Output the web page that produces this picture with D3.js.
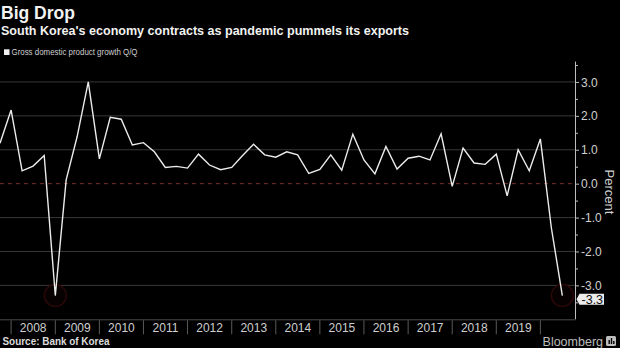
<!DOCTYPE html>
<html>
<head>
<meta charset="utf-8">
<script src="https://cdn.jsdelivr.net/npm/d3@7"></script>
<style>
  html, body { margin: 0; padding: 0; background: #000; }
  svg { display: block; }
  text { font-family: "Liberation Sans", Arial, sans-serif; }
</style>
</head>
<body>
<svg id="chart" width="620" height="348"></svg>
<script>
// Quarterly real GDP growth, quarter-on-quarter, percent
const quarters = [
  "2007Q3","2007Q4",
  "2008Q1","2008Q2","2008Q3","2008Q4",
  "2009Q1","2009Q2","2009Q3","2009Q4",
  "2010Q1","2010Q2","2010Q3","2010Q4",
  "2011Q1","2011Q2","2011Q3","2011Q4",
  "2012Q1","2012Q2","2012Q3","2012Q4",
  "2013Q1","2013Q2","2013Q3","2013Q4",
  "2014Q1","2014Q2","2014Q3","2014Q4",
  "2015Q1","2015Q2","2015Q3","2015Q4",
  "2016Q1","2016Q2","2016Q3","2016Q4",
  "2017Q1","2017Q2","2017Q3","2017Q4",
  "2018Q1","2018Q2","2018Q3","2018Q4",
  "2019Q1","2019Q2","2019Q3","2019Q4",
  "2020Q1","2020Q2"
];
const gdpGrowth = [
  1.19, 2.17,
  0.38, 0.52, 0.83, -3.3,
  0.11, 1.39, 3.0, 0.73,
  1.96, 1.9, 1.14, 1.21,
  0.94, 0.48, 0.51, 0.46,
  0.87, 0.55, 0.41, 0.48,
  0.83, 1.16, 0.85, 0.78,
  0.94, 0.85, 0.3, 0.42,
  0.85, 0.4, 1.46, 0.7,
  0.29, 1.1, 0.43, 0.75,
  0.81, 0.7, 1.47, -0.08,
  1.05, 0.61, 0.57, 0.87,
  -0.36, 1.0, 0.38, 1.32,
  -1.3, -3.3
];
const yearLabels = ["2008","2009","2010","2011","2012","2013","2014","2015","2016","2017","2018","2019"];
const yearBreaks = ["2008","2009","2010","2011","2012","2013","2014","2015","2016","2017","2018","2019","2020"];
const yTicks = [-3, -2, -1, 0, 1, 2, 3];
const lastValueLabel = "-3.3";
const highlighted = ["2008Q4", "2020Q2"];

// each quarter is plotted at its end date
const quarterEnd = q => new Date(+q.slice(0, 4), +q.slice(5) * 3, 1);
const data = quarters.map((q, i) => ({ q, date: quarterEnd(q), value: gdpGrowth[i] }));

const svg = d3.select("#chart");
const W = 620, H = 348;
const plot = { left: 0, right: 575.5, top: 61.6, bottom: 319.3 };

svg.append("rect").attr("width", W).attr("height", H).attr("fill", "#000");

const x = d3.scaleTime()
  .domain([new Date(2007, 9, 1), new Date(2020, 9, 18)])
  .range([plot.left, plot.right]);
const y = d3.scaleLinear()
  .domain([-4.0, 3.6])
  .range([plot.bottom, plot.top]);

// Title block
svg.append("text").attr("x", 1).attr("y", 18.5)
  .attr("font-size", 19).attr("font-weight", "bold").attr("fill", "#f2f2f2")
  .attr("textLength", 74).attr("lengthAdjust", "spacingAndGlyphs")
  .text("Big Drop");
svg.append("text").attr("x", 1).attr("y", 35.2)
  .attr("font-size", 12.8).attr("font-weight", "bold").attr("fill", "#f2f2f2")
  .attr("textLength", 408).attr("lengthAdjust", "spacingAndGlyphs")
  .text("South Korea's economy contracts as pandemic pummels its exports");

// Legend
svg.append("rect").attr("x", 4).attr("y", 49.3).attr("width", 5.5).attr("height", 5.7).attr("fill", "#f0f0f0");
svg.append("text").attr("x", 11.5).attr("y", 55.3)
  .attr("font-size", 8.8).attr("fill", "#cfcfcf")
  .attr("textLength", 126).attr("lengthAdjust", "spacingAndGlyphs")
  .text("Gross domestic product growth Q/Q");

// Gridlines
svg.append("g").selectAll("line")
  .data(yTicks.filter(d => d !== 0))
  .join("line")
  .attr("x1", plot.left).attr("x2", plot.right)
  .attr("y1", d => y(d)).attr("y2", d => y(d))
  .attr("stroke", "#383838").attr("stroke-width", 1);

// Zero line
svg.append("line")
  .attr("x1", plot.left).attr("x2", plot.right)
  .attr("y1", y(0)).attr("y2", y(0))
  .attr("stroke", "#7a2c2c").attr("stroke-width", 1)
  .attr("stroke-dasharray", "4,4");

// Faint rings around the two troughs
svg.append("g").selectAll("circle")
  .data(data.filter(d => highlighted.includes(d.q)))
  .join("circle")
  .attr("cx", d => x(d.date)).attr("cy", d => y(d.value))
  .attr("r", 11)
  .attr("fill", "#080101")
  .attr("stroke", "#2a0808").attr("stroke-width", 1.5);

// GDP line
const line = d3.line().x(d => x(d.date)).y(d => y(d.value));
svg.append("path").datum(data)
  .attr("d", line)
  .attr("fill", "none")
  .attr("stroke", "#ebebeb")
  .attr("stroke-width", 1.4)
  .attr("stroke-linejoin", "miter");

// Right value axis
const yAxis = d3.axisRight(y)
  .tickValues(d3.range(-3.5, 3.6, 0.5))
  .tickSize(3)
  .tickFormat(d => Number.isInteger(d) ? d.toFixed(1) : "");
const ya = svg.append("g").attr("transform", `translate(${plot.right},0)`).call(yAxis);
ya.select(".domain").attr("stroke", "#bdbdbd").attr("d", `M0,${plot.top}V${plot.bottom}`);
ya.selectAll(".tick line").attr("stroke", "#bdbdbd")
  .attr("x2", d => Number.isInteger(d) ? 3.5 : 2.5);
ya.selectAll(".tick text")
  .attr("x", 5.5).attr("dy", "0.34em")
  .attr("fill", "#d0d0d0")
  .attr("font-size", 12)
  .attr("font-family", "Liberation Sans, Arial, sans-serif");

svg.append("text")
  .attr("transform", `translate(605,192) rotate(90)`)
  .attr("text-anchor", "middle")
  .attr("font-size", 13).attr("fill", "#d0d0d0")
  .text("Percent");

// Last value tag
const last = data[data.length - 1];
const tagY = y(last.value) + 3.6;
svg.append("path")
  .attr("d", `M${plot.right + 1},${tagY} L${plot.right + 4},${tagY - 5.5} H${plot.right + 28.5} V${tagY + 5.5} H${plot.right + 4} Z`)
  .attr("fill", "#ececec");
svg.append("text")
  .attr("x", plot.right + 16.8).attr("y", tagY + 4.4)
  .attr("text-anchor", "middle")
  .attr("font-size", 12.5).attr("fill", "#111")
  .text(lastValueLabel);

// Time axis band
svg.append("line")
  .attr("x1", 0).attr("x2", plot.right)
  .attr("y1", plot.bottom + 0.5).attr("y2", plot.bottom + 0.5)
  .attr("stroke", "#4a4a4a");
const yearDate = yr => new Date(+yr, 0, 1);
svg.append("g").selectAll("line")
  .data(yearBreaks)
  .join("line")
  .attr("x1", d => x(yearDate(d))).attr("x2", d => x(yearDate(d)))
  .attr("y1", plot.bottom + 1).attr("y2", plot.bottom + 15)
  .attr("stroke", "#5a5a5a");
svg.append("g").selectAll("text")
  .data(yearLabels)
  .join("text")
  .attr("x", d => (x(yearDate(d)) + x(yearDate(+d + 1))) / 2)
  .attr("y", 331.5)
  .attr("text-anchor", "middle")
  .attr("font-size", 12).attr("fill", "#cfcfcf")
  .text(d => d);

// Footer
svg.append("text").attr("x", 2.5).attr("y", 345)
  .attr("font-size", 10.2).attr("font-weight", "bold").attr("fill", "#dcdcdc")
  .attr("textLength", 107).attr("lengthAdjust", "spacingAndGlyphs")
  .text("Source: Bank of Korea");
svg.append("text").attr("x", 603).attr("y", 346)
  .attr("text-anchor", "end")
  .attr("font-size", 12.5).attr("fill", "#bdbdbd")
  .text("Bloomberg");
const logo = svg.append("g").attr("transform", "translate(606,336)");
logo.append("rect").attr("width", 10).attr("height", 10).attr("rx", 1.5).attr("fill", "#bdbdbd");
logo.append("rect").attr("x", 2.5).attr("y", 4).attr("width", 1.4).attr("height", 4).attr("fill", "#000");
logo.append("rect").attr("x", 4.8).attr("y", 2).attr("width", 1.4).attr("height", 6).attr("fill", "#000");
logo.append("rect").attr("x", 7.1).attr("y", 5).attr("width", 1.4).attr("height", 3).attr("fill", "#000");
</script>
</body>
</html>
